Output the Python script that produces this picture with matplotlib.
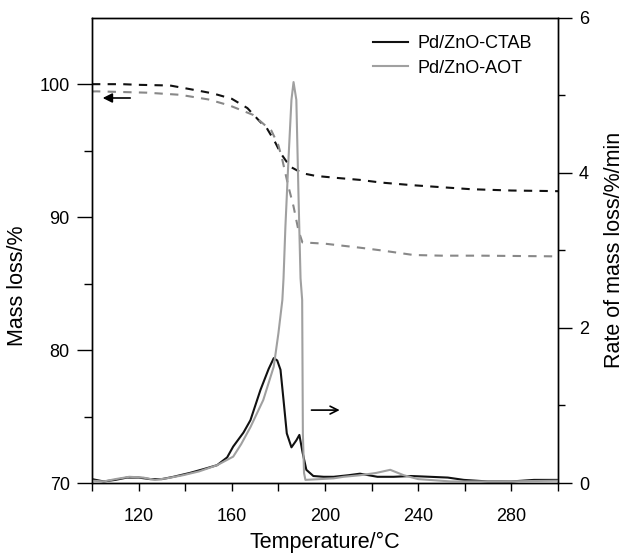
from matplotlib import pyplot as plt
from matplotlib.ticker import MultipleLocator, FixedLocator

plt.rcParams["font.family"] = ["Liberation Sans", "DejaVu Sans"]

# mass loss curves (left axis)
t_ctab_mass = [100, 113, 120, 133.5, 146, 152, 160, 166.7, 172, 175, 178.7, 181, 185, 190.3, 196, 205, 215, 224, 237.6, 250, 262.6, 280, 297, 300]
m_ctab = [100.0, 100.0, 99.95, 99.9, 99.5, 99.3, 98.9, 98.2, 97.2, 96.7, 95.6, 94.8, 93.8, 93.3, 93.1, 92.95, 92.8, 92.6, 92.4, 92.25, 92.1, 92.0, 91.96, 91.95]

t_aot_mass = [100, 102, 123.6, 137.8, 150, 159, 169, 177, 180, 181.7, 184.3, 186.5, 188.6, 190.3, 200, 215, 224, 238, 250, 267, 298, 300]
m_aot = [99.45, 99.46, 99.36, 99.2, 98.85, 98.4, 97.7, 96.5, 95.4, 94.3, 92.3, 90.8, 89.0, 88.1, 88.0, 87.7, 87.5, 87.15, 87.1, 87.1, 87.05, 87.05]

# rate of mass loss curves (right axis)
t_ctab_rate = [100, 105, 110, 115, 120, 125, 130, 135, 142, 148, 153.7, 158, 160.6, 165, 168, 172.3, 175.8, 178, 179.5, 180.9, 182.2, 183.6, 185.6, 187.7, 189, 190.4, 192, 195, 199.4, 203.7, 210, 215, 222.5, 229.5, 237, 245, 252.7, 259.6, 269.8, 280, 289.7, 300]
r_ctab = [0.05, 0.02, 0.04, 0.07, 0.07, 0.05, 0.05, 0.08, 0.13, 0.18, 0.23, 0.33, 0.47, 0.65, 0.81, 1.2, 1.47, 1.61, 1.58, 1.46, 1.07, 0.64, 0.46, 0.55, 0.62, 0.39, 0.17, 0.09, 0.08, 0.08, 0.1, 0.12, 0.08, 0.08, 0.09, 0.08, 0.07, 0.04, 0.02, 0.02, 0.04, 0.04]

t_aot_rate = [100, 105, 110, 116, 122, 127, 132, 139, 146, 153.7, 160.6, 164, 168, 173.5, 178, 180, 181.7, 182.2, 183, 184.3, 185.6, 186.5, 187.7, 188.6, 189.5, 190.2, 190.5, 191.0, 191.6, 203.7, 208, 215, 222, 228, 233.8, 240, 254, 276, 300]
r_aot = [0.03, 0.02, 0.05, 0.08, 0.07, 0.04, 0.06, 0.10, 0.15, 0.23, 0.34, 0.5, 0.72, 1.07, 1.5, 1.93, 2.36, 2.64, 3.3, 4.16, 4.94, 5.17, 4.94, 3.74, 2.64, 2.36, 0.64, 0.13, 0.04, 0.06, 0.08, 0.1, 0.13, 0.17, 0.1, 0.05, 0.02, 0.02, 0.03]

labels = ["Pd/ZnO-CTAB", "Pd/ZnO-AOT"]

fig = plt.figure(figsize=(6.24, 5.56), dpi=100)
ax = fig.add_axes([92/624, 1 - 483/556, 466/624, 465.3/556])
ax2 = ax.twinx()

ax.plot(t_ctab_mass, m_ctab, color="#111111", lw=1.5, dashes=(4, 3.5))
ax.plot(t_aot_mass, m_aot, color="#888888", lw=1.5, dashes=(4, 3.5))

ax2.plot(t_ctab_rate, r_ctab, color="#111111", lw=1.5, label=labels[0])
ax2.plot(t_aot_rate, r_aot, color="#a0a0a0", lw=1.5, label=labels[1])

ax.set_xlim(100, 300)
ax.set_ylim(70, 105)
ax2.set_ylim(0, 6)

ax.xaxis.set_major_locator(FixedLocator([120, 160, 200, 240, 280]))
ax.xaxis.set_minor_locator(FixedLocator([100, 140, 180, 220, 260, 300]))
ax.yaxis.set_major_locator(FixedLocator([70, 80, 90, 100]))
ax.yaxis.set_minor_locator(FixedLocator([75, 85, 95]))
ax2.yaxis.set_major_locator(MultipleLocator(2))
ax2.yaxis.set_minor_locator(MultipleLocator(1))

ax.tick_params(axis="x", which="both", direction="out", length=6, width=1, labelsize=13, pad=12)
ax.tick_params(axis="y", which="major", direction="out", length=11, width=1, labelsize=13, pad=5)
ax.tick_params(axis="y", which="minor", direction="out", length=6, width=1)
ax2.tick_params(axis="y", which="major", direction="out", length=10, width=1, labelsize=13, pad=5)
ax2.tick_params(axis="y", which="minor", direction="out", length=5, width=1)

for a in (ax, ax2):
    for s in a.spines.values():
        s.set_linewidth(1.0)

ax.set_xlabel("Temperature/\u00b0C", fontsize=15.5)
ax.set_ylabel("Mass loss/%", fontsize=15.5)
ax2.set_ylabel("Rate of mass loss/%/min", fontsize=15.5)
ax.xaxis.set_label_coords(0.5, -0.105)
ax.yaxis.set_label_coords(-0.137, 0.423)
ax2.yaxis.set_label_coords(1.098, 0.5)

# direction arrows
ax.annotate("", xy=(103.4, 98.96), xytext=(117.6, 98.96),
            arrowprops=dict(arrowstyle="-|>", color="black", lw=1.2, mutation_scale=14))
ax2.annotate("", xy=(207.5, 0.94), xytext=(193, 0.94),
             arrowprops=dict(arrowstyle="->", color="black", lw=1.2, mutation_scale=14))

ax2.legend(loc="upper left", bbox_to_anchor=(373/624, 1 - 35/556), bbox_transform=fig.transFigure,
           frameon=False, fontsize=13, handlelength=1.95, handletextpad=0.5,
           labelspacing=0.42, borderpad=0, borderaxespad=0)

fig.savefig("out.png", dpi=100)
